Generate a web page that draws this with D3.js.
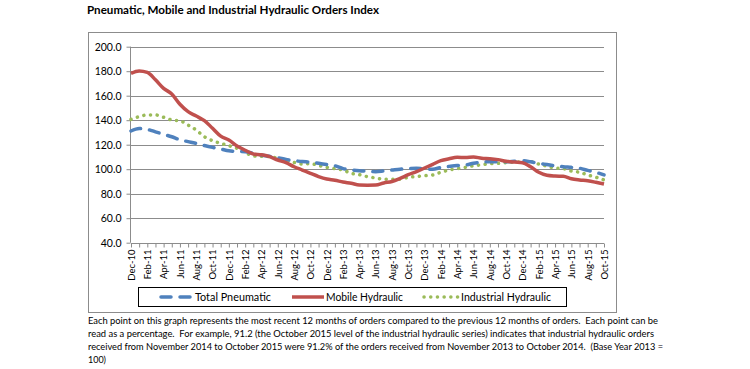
<!DOCTYPE html>
<html>
<head>
<meta charset="utf-8">
<script src="https://cdn.jsdelivr.net/npm/d3@7"></script>
<style>
  html, body { margin: 0; padding: 0; background: #fff; }
  svg { display: block; }
  text { font-family: Lato, "Open Sans", sans-serif; fill: #000; }
  .note { white-space: pre; }
</style>
</head>
<body>
<svg id="chart" width="750" height="369"></svg>
<script>
const months = ["Dec-10","Jan-11","Feb-11","Mar-11","Apr-11","May-11","Jun-11","Jul-11","Aug-11","Sep-11","Oct-11","Nov-11",
  "Dec-11","Jan-12","Feb-12","Mar-12","Apr-12","May-12","Jun-12","Jul-12","Aug-12","Sep-12","Oct-12","Nov-12",
  "Dec-12","Jan-13","Feb-13","Mar-13","Apr-13","May-13","Jun-13","Jul-13","Aug-13","Sep-13","Oct-13","Nov-13",
  "Dec-13","Jan-14","Feb-14","Mar-14","Apr-14","May-14","Jun-14","Jul-14","Aug-14","Sep-14","Oct-14","Nov-14",
  "Dec-14","Jan-15","Feb-15","Mar-15","Apr-15","May-15","Jun-15","Jul-15","Aug-15","Sep-15","Oct-15"];

const pneumatic = [131.2,133.2,132.5,130.5,128.5,126.5,124,122.5,121,119.3,117.8,116.5,
  115,114.5,114.3,113,111.6,110.5,109.4,108,107,106.2,105.8,104.8,
  103.8,102.8,100.5,99.5,98.8,98.4,98,98.6,99.3,100,100.5,100.7,
  100.2,100,101.5,102.3,103,103.4,104.8,105.8,106.1,106.1,106.1,106.5,
  106.9,106,104.8,103.8,102.8,102,101.5,100.8,99,97.5,95.3];

const mobile = [178.3,180.2,179,173,166,161.4,153,147,143.4,139.6,133.4,127,
  123.8,119,115.5,112.4,111.8,110.2,107.5,105.3,102,99.3,96.6,94,
  92,91,89.5,88.5,87.1,87,87.1,88.8,90,92.5,95.5,98,
  101,104,107,108.5,109.7,109.5,110,109,108.6,107.8,106.5,105.8,
  105.3,102,97.5,95,94.4,94.2,92.2,91.2,90.5,89.3,87.9];

const industrial = [140.7,142.9,144.3,144.3,142.4,140.2,139.5,136,132,126.5,123.3,121.1,
  119.2,117,113.7,110.8,110.5,110.2,108.9,107,105.5,104.2,104.6,103,
  101.5,100.5,99.3,96.6,95.5,93.9,92.8,91.8,91.8,91.8,93.4,94,
  94.7,95.3,97.5,99.3,100.5,101.5,102.8,103.6,104.5,104.8,105.4,105.7,
  106,106.1,104.2,102.5,101,100.5,98.5,97.5,95.3,93.5,91.2];

const yTicks = [40,60,80,100,120,140,160,180,200];
const seriesNames = ["Total Pneumatic","Mobile Hydraulic","Industrial Hydraulic"];
const titleText = "Pneumatic, Mobile and Industrial Hydraulic Orders Index";
const noteLines = [
  "Each point on this graph represents the most recent 12 months of orders compared to the previous 12 months of orders.  Each point can be",
  "read as a percentage.  For example, 91.2 (the October 2015 level of the industrial hydraulic series) indicates that industrial hydraulic orders",
  "received from November 2014 to October 2015 were 91.2% of the orders received from November 2013 to October 2014.  (Base Year 2013 =",
  "100)"
];

const svg = d3.select("#chart");
const gridColor = "#8c8c8c";

// Title
svg.append("text").attr("x", 87).attr("y", 14)
  .attr("font-size", 11).attr("font-weight", "bold")
  .attr("textLength", 292).attr("lengthAdjust", "spacingAndGlyphs")
  .text(titleText);

// Outer chart box
svg.append("rect").attr("x", 88.5).attr("y", 32.5).attr("width", 528).attr("height", 280)
  .attr("fill", "none").attr("stroke", gridColor).attr("stroke-width", 1);

const x = d3.scalePoint().domain(months).range([131, 604]);
const y = d3.scaleLinear().domain([40, 200]).range([242.7, 46.7]);

// Gridlines
svg.append("g").selectAll("line").data(yTicks.filter(d => d > 40)).join("line")
  .attr("x1", 131).attr("x2", 604)
  .attr("y1", d => Math.round(y(d)) + 0.5).attr("y2", d => Math.round(y(d)) + 0.5)
  .attr("stroke", gridColor).attr("stroke-width", 1);

// Y axis
const yAxis = svg.append("g").attr("transform", "translate(130.5,0)")
  .call(d3.axisLeft(y).tickValues(yTicks).tickSize(4).tickPadding(5).tickFormat(d3.format(".1f")));
yAxis.selectAll("path, line").attr("stroke", gridColor);
yAxis.selectAll("text").attr("font-size", 10.5).attr("font-family", "Lato, sans-serif").attr("fill", "#000");
yAxis.select(".domain").attr("d", `M0,${y(200)}V${y(40)}`);

// X axis
const xAxis = svg.append("g").attr("transform", `translate(0,${Math.round(y(40)) + 0.5})`)
  .call(d3.axisBottom(x).tickSize(4).tickFormat((d, i) => i % 2 === 0 ? d : ""));
xAxis.selectAll("path, line").attr("stroke", gridColor);
xAxis.select(".domain").attr("d", `M131,0H604`);
xAxis.selectAll("text")
  .attr("font-size", 9.5).attr("font-family", "Lato, sans-serif").attr("fill", "#000")
  .attr("transform", "rotate(-90)")
  .attr("text-anchor", "end")
  .attr("x", -6).attr("y", 0).attr("dy", "0.35em");

// Lines
const line = d3.line().x((d, i) => x(months[i])).y(d => y(d)).curve(d3.curveMonotoneX);

svg.append("path").datum(industrial).attr("d", line)
  .attr("fill", "none").attr("stroke", "#9BBB59").attr("stroke-width", 3.5)
  .attr("stroke-linecap", "round").attr("stroke-dasharray", "0.1,6.6");

svg.append("path").datum(pneumatic).attr("d", line)
  .attr("fill", "none").attr("stroke", "#4F81BD").attr("stroke-width", 3.5)
  .attr("stroke-linecap", "round").attr("stroke-dasharray", "10,9");

svg.append("path").datum(mobile).attr("d", line)
  .attr("fill", "none").attr("stroke", "#C0504D").attr("stroke-width", 3.5)
  .attr("stroke-linejoin", "round");

// Legend
const lg = svg.append("g");
lg.append("rect").attr("x", 138.5).attr("y", 287.5).attr("width", 428).attr("height", 19)
  .attr("fill", "#fff").attr("stroke", "#000").attr("stroke-width", 1);
const legendItems = [
  {name: seriesNames[0], x1: 161, x2: 192, color: "#4F81BD", dash: "10,9", tx: 195, tw: 76},
  {name: seriesNames[1], x1: 292, x2: 324, color: "#C0504D", dash: null, tx: 326, tw: 77},
  {name: seriesNames[2], x1: 424, x2: 458, color: "#9BBB59", dash: "0.1,6.6", tx: 461, tw: 90}
];
legendItems.forEach(it => {
  const l = lg.append("line").attr("x1", it.x1).attr("x2", it.x2).attr("y1", 297).attr("y2", 297)
    .attr("stroke", it.color).attr("stroke-width", 3.5);
  if (it.dash) l.attr("stroke-dasharray", it.dash).attr("stroke-linecap", "round");
  lg.append("text").attr("x", it.tx).attr("y", 297).attr("dy", "0.35em")
    .attr("font-size", 10.5).attr("textLength", it.tw).attr("lengthAdjust", "spacingAndGlyphs")
    .text(it.name);
});

// Footnote
const noteWidths = [570, 566, 575, 18];
noteLines.forEach((t, i) => {
  svg.append("text").attr("class", "note").attr("xml:space", "preserve")
    .attr("x", 88).attr("y", 324 + i * 13)
    .attr("font-size", 9.6).attr("textLength", noteWidths[i]).attr("lengthAdjust", "spacingAndGlyphs")
    .text(t);
});
</script>
</body>
</html>
